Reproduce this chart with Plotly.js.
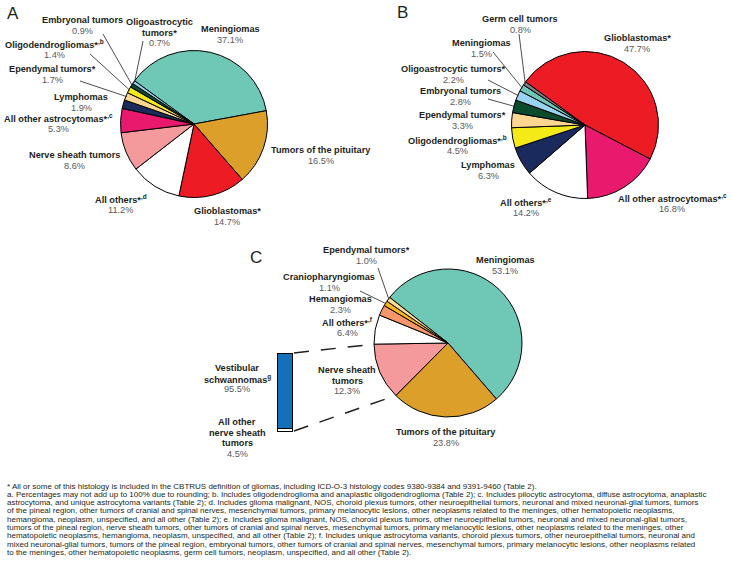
<!DOCTYPE html>
<html><head><meta charset="utf-8">
<script src="https://cdn.plot.ly/plotly-3.0.1.min.js"></script>
<style>html,body{margin:0;padding:0;background:#fff}#chart{width:732px;height:570px}</style>
</head><body><div id="chart"></div>
<script>
// ---------------- DATA ----------------
const pieA_labels = ['Meningiomas','Tumors of the pituitary','Glioblastomas*','All others*<sup>,d</sup>','Nerve sheath tumors','All other astrocytomas*<sup>,c</sup>','Lymphomas','Ependymal tumors*','Oligodendrogliomas*<sup>,b</sup>','Embryonal tumors','Oligoastrocytic<br>tumors*'];
const pieA_values = [37.1,16.5,14.7,11.2,8.6,5.3,1.9,1.7,1.4,0.9,0.7];

const pieB_labels = ['Glioblastomas*','All other astrocytomas*<sup>,c</sup>','All others*<sup>,e</sup>','Lymphomas','Oligodendrogliomas*<sup>,b</sup>','Ependymal tumors*','Embryonal tumors','Oligoastrocytic tumors*','Meningiomas','Germ cell tumors'];
const pieB_values = [47.7,16.8,14.2,6.3,4.5,3.3,2.8,2.2,1.5,0.8];

const pieC_labels = ['Meningiomas','Tumors of the pituitary','Nerve sheath<br>tumors','All others*<sup>,f</sup>','Hemangiomas','Craniopharyngiomas','Ependymal tumors*'];
const pieC_values = [53.1,23.8,12.3,6.4,2.3,1.1,1.0];

const bar_labels = ['All other<br>nerve sheath<br>tumors','Vestibular<br>schwannomas<sup>g</sup>'];
const bar_values = [4.5,95.5];

const footnotes = [
 '* All or some of this histology is included in the CBTRUS definition of gliomas, including ICD-O-3 histology codes 9380-9384 and 9391-9460 (Table 2).',
 'a. Percentages may not add up to 100% due to rounding; b. Includes oligodendroglioma and anaplastic oligodendroglioma (Table 2); c. Includes pilocytic astrocytoma, diffuse astrocytoma, anaplastic',
 'astrocytoma, and unique astrocytoma variants (Table 2); d. Includes glioma malignant, NOS, choroid plexus tumors, other neuroepithelial tumors, neuronal and mixed neuronal-glial tumors, tumors',
 'of the pineal region, other tumors of cranial and spinal nerves, mesenchymal tumors, primary melanocytic lesions, other neoplasms related to the meninges, other hematopoietic neoplasms,',
 'hemangioma, neoplasm, unspecified, and all other (Table 2); e. Includes glioma malignant, NOS, choroid plexus tumors, other neuroepithelial tumors, neuronal and mixed neuronal-glial tumors,',
 'tumors of the pineal region, nerve sheath tumors, other tumors of cranial and spinal nerves, mesenchymal tumors, primary melanocytic lesions, other neoplasms related to the meninges, other',
 'hematopoietic neoplasms, hemangioma, neoplasm, unspecified, and all other (Table 2); f. Includes unique astrocytoma variants, choroid plexus tumors, other neuroepithelial tumors, neuronal and',
 'mixed neuronal-glial tumors, tumors of the pineal region, embryonal tumors, other tumors of cranial and spinal nerves, mesenchymal tumors, primary melanocytic lesions, other neoplasms related',
 'to the meninges, other hematopoietic neoplasms, germ cell tumors, neoplasm, unspecified, and all other (Table 2).'
];

// ---------------- STYLE / LAYOUT ----------------
const W = 732, H = 570;
const FONT = '"Liberation Sans", Arial, Helvetica, sans-serif';
const INK = '#231f20', GRAY = '#58595b';
const C_MEN='#6fc8b5', C_PIT='#dc9f2a', C_GLIO='#ed1c24', C_OTH='#ffffff', C_NERVE='#f49a9c',
      C_ASTRO='#e9196e', C_LYM='#1b2a5c', C_EPEN='#fdd68f', C_OLIGOD='#f4ea17', C_EMB='#0c4a2c',
      C_OLIGOA='#9ad3f1', C_GERM='#808080', C_HEM='#f6966a', C_CRAN='#fbb814', C_BAR='#1370b9';

const colorsA = [C_MEN,C_PIT,C_GLIO,C_OTH,C_NERVE,C_ASTRO,C_LYM,C_EPEN,C_OLIGOD,C_EMB,C_OLIGOA];
const colorsB = [C_GLIO,C_ASTRO,C_OTH,C_LYM,C_OLIGOD,C_EPEN,C_EMB,C_OLIGOA,C_MEN,C_GERM];
const colorsC = [C_MEN,C_PIT,C_NERVE,C_OTH,C_HEM,C_CRAN,'#fde08f'];

const geomA = {cx:194, cy:124, r:73.5, rot:-54};
const geomB = {cx:585, cy:125, r:73.5, rot:-54};
const geomC = {cx:448, cy:343, r:74, rot:-52};

// label positions [centerX, firstLineY] per slice (pixels)
const posA = [[230,29],[321,150],[227,211],[121,199],[74,155],[58,118],[81,97],[52,69],[54,44],[82,20],[159,22]];
const posB = [[637,38],[672,198],[526,202],[488,165],[457,140],[462,115],[460,91],[453,69],[482,43],[520,19]];
const posC = [[505,260],[446,432],[347,370],[347,322],[340,299],[329,277],[366,250]];
const posBar = [[237,422],[237,368]];
// leader-line start points (pixels), null = no leader
const leadA = [null,null,null,null,null,null,null,[80,81],[90,54],[103,34],[143,41]];
const leadB = [null,null,null,null,null,null,[488,99],[488,80],[493,52],[519,34]];
const leadC = [null,null,null,null,null,[360,291],[378,268]];

const LH = 10.6, FS = 9.2;
const px = x => x / W, py = y => 1 - y / H;

const annotations = [], shapes = [], traces = [];

function pieTrace(values, colors, g){
  return {
    type:'pie', values:values, sort:false, direction:'clockwise', rotation:g.rot,
    marker:{colors:colors, line:{color:'#000', width:1}},
    textinfo:'none', hoverinfo:'skip', showlegend:false,
    domain:{x:[px(g.cx-g.r), px(g.cx+g.r)], y:[py(g.cy+g.r), py(g.cy-g.r)]}
  };
}

function addText(x, y, text, opts){
  annotations.push(Object.assign({
    xref:'paper', yref:'paper', x:px(x), y:py(y), text:text, showarrow:false,
    xanchor:'center', yanchor:'middle', font:{family:FONT, size:FS, color:INK}
  }, opts||{}));
}

function addLabels(labels, values, pos){
  labels.forEach((lab,i)=>{
    const lines = lab.split('<br>');
    const [x,y0] = pos[i];
    lines.forEach((ln,k)=> addText(x, y0 + k*LH, '<b>'+ln+'</b>'));
    addText(x, y0 + lines.length*LH, values[i].toFixed(1)+'%', {font:{family:FONT,size:FS,color:GRAY}});
  });
}

function sliceAngle(values, g, i, frac){
  const tot = values.reduce((a,b)=>a+b,0);
  let cum = 0; for(let k=0;k<i;k++) cum += values[k];
  return (g.rot + 360*(cum + frac*values[i])/tot) * Math.PI/180;
}
function edgePoint(values, g, i, frac, rr){
  const a = sliceAngle(values, g, i, frac), r = rr===undefined ? g.r : rr;
  return [g.cx + r*Math.sin(a), g.cy - r*Math.cos(a)];
}
function addLeaders(values, g, lead){
  lead.forEach((s,i)=>{
    if(!s) return;
    const [ex,ey] = edgePoint(values, g, i, 0.5, g.r-1);
    shapes.push({type:'line', xref:'paper', yref:'paper', x0:px(s[0]), y0:py(s[1]), x1:px(ex), y1:py(ey),
                 line:{color:INK, width:0.8}});
  });
}

traces.push(pieTrace(pieA_values, colorsA, geomA));
traces.push(pieTrace(pieB_values, colorsB, geomB));
traces.push(pieTrace(pieC_values, colorsC, geomC));

// stacked bar (nerve sheath breakdown)
const barBox = {x0:277, x1:293, y0:353, y1:432};
const barColors = ['#ffffff', C_BAR];
bar_values.forEach((v,i)=>{
  traces.push({type:'bar', x:[0], y:[v], width:[1], marker:{color:barColors[i], line:{color:'#000', width:1.5}},
               hoverinfo:'skip', showlegend:false, xaxis:'x', yaxis:'y'});
});

addLabels(pieA_labels, pieA_values, posA);
addLabels(pieB_labels, pieB_values, posB);
addLabels(pieC_labels, pieC_values, posC);
addLabels(bar_labels, bar_values, posBar);
addLeaders(pieA_values, geomA, leadA);
addLeaders(pieB_values, geomB, leadB);
addLeaders(pieC_values, geomC, leadC);

// dashed connectors from bar to the nerve-sheath slice of pie C
const nsIdx = 2;
const barTotal = bar_values.reduce((a,b)=>a+b,0);
const barTopY = barBox.y1 - (barBox.y1-barBox.y0)*barTotal/100;
const pTop = edgePoint(pieC_values, geomC, nsIdx, 1, geomC.r);
const pBot = edgePoint(pieC_values, geomC, nsIdx, 0, geomC.r);
[[barBox.x1, barTopY, pTop],[barBox.x1, barBox.y1-1, pBot]].forEach(([x,y,p])=>{
  shapes.push({type:'line', xref:'paper', yref:'paper', x0:px(x+1), y0:py(y), x1:px(p[0]), y1:py(p[1]),
               line:{color:INK, width:1.5, dash:'15px,12px'}});
});

// panel letters
addText(13, 14, 'A', {font:{family:FONT, size:17, color:INK}});
addText(402, 13, 'B', {font:{family:FONT, size:17, color:INK}});
addText(256, 257, 'C', {font:{family:FONT, size:17, color:INK}});

// footnotes
footnotes.forEach((t,i)=>{
  addText(5, 486 + i*8.3, t, {xanchor:'left', font:{family:FONT, size:8.0, color:INK}});
});

const layout = {
  width:W, height:H, margin:{l:0,r:0,t:0,b:0}, paper_bgcolor:'#fff', plot_bgcolor:'rgba(0,0,0,0)',
  barmode:'stack', bargap:0, showlegend:false,
  xaxis:{domain:[px(barBox.x0), px(barBox.x1)], range:[-0.5,0.5], visible:false, fixedrange:true},
  yaxis:{domain:[py(barBox.y1), py(barBox.y0)], range:[0,100], visible:false, fixedrange:true},
  annotations:annotations, shapes:shapes
};

Plotly.newPlot('chart', traces, layout, {staticPlot:true, displayModeBar:false});
</script>
</body></html>
